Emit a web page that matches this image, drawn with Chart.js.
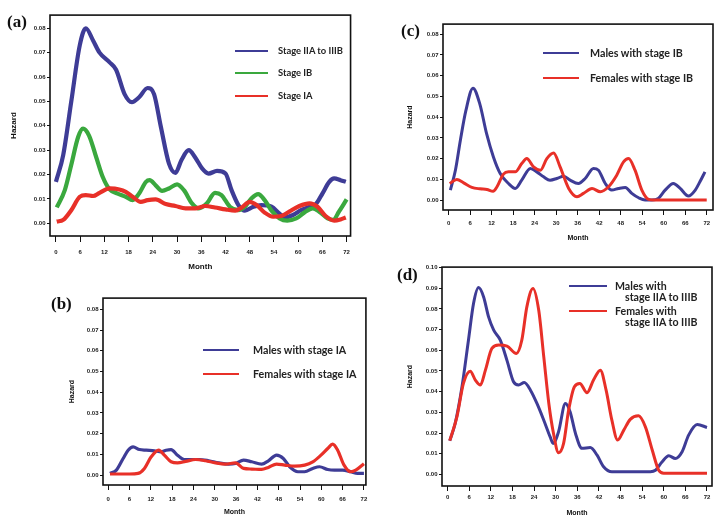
<!DOCTYPE html>
<html>
<head>
<meta charset="utf-8">
<script src="https://cdn.jsdelivr.net/npm/chart.js@4.4.1/dist/chart.umd.min.js"></script>
<style>
html, body { margin: 0; padding: 0; background: #fff; }
#fig { position: relative; width: 720px; height: 516px; overflow: hidden; background: #fff; }
#fig canvas { position: absolute; }
.tag { position: absolute; font: bold 17px "Liberation Serif", serif; color: #111; line-height: 1; transform: translateY(-50%); }
.key { position: absolute; }
.lab { position: absolute; font-family: Lato, sans-serif; font-weight: 700; color: #222; white-space: nowrap; line-height: 1; transform: translateY(-50%); }
</style>
</head>
<body>
<div id="fig"></div>
<script>
// axis ticks
const monthTicks = [0, 6, 12, 18, 24, 30, 36, 42, 48, 54, 60, 66, 72];
const hazardTicks = [0, 0.01, 0.02, 0.03, 0.04, 0.05, 0.06, 0.07, 0.08];
const hazardTicksD = [0, 0.01, 0.02, 0.03, 0.04, 0.05, 0.06, 0.07, 0.08, 0.09, 0.10];

// (a) all patients by stage
const aLabels = ['Stage IIA to IIIB', 'Stage IB', 'Stage IA'];
const aBlueM = [0, 1.8, 3.8, 5.9, 7.4, 9.2, 10.8, 13.3, 14.9, 17, 18.8, 20.6, 22.7, 24.3, 26, 28, 29.6, 31.1, 32.9, 34.5, 36.2, 37.8, 39.9, 42, 43.5, 45.2, 46.8, 48.9, 50.9, 53.4, 55.4, 56.8, 58.7, 60.7, 62.8, 64.4, 66, 67.7, 68.9, 70.5, 71.8];
const aBlue = [0.017, 0.028, 0.050, 0.073, 0.080, 0.075, 0.070, 0.066, 0.063, 0.053, 0.0497, 0.0517, 0.0555, 0.053, 0.0395, 0.0245, 0.0207, 0.026, 0.030, 0.027, 0.0225, 0.0204, 0.0215, 0.0204, 0.0136, 0.0075, 0.0052, 0.0068, 0.0075, 0.0068, 0.004, 0.0024, 0.0034, 0.0054, 0.0068, 0.0079, 0.0122, 0.017, 0.0184, 0.0177, 0.017];
const aGreenM = [0.2, 2.2, 3.8, 5.5, 6.7, 8.2, 10, 11.6, 13.3, 15.3, 17.3, 19, 20.6, 22.3, 23.2, 24.7, 26.3, 28, 30, 31.7, 33.7, 35.4, 37.4, 39.4, 41, 43.1, 45.2, 46.8, 48.4, 50.1, 51.7, 53.4, 55.4, 57.3, 59.5, 61.5, 63.6, 65.2, 67.3, 68.7, 70.1, 72];
const aGreen = [0.0065, 0.0136, 0.024, 0.0354, 0.0388, 0.036, 0.027, 0.019, 0.0139, 0.0122, 0.0109, 0.0095, 0.0122, 0.017, 0.0177, 0.0156, 0.0133, 0.0143, 0.016, 0.0136, 0.0082, 0.0061, 0.0082, 0.0125, 0.0116, 0.0068, 0.0054, 0.0068, 0.0102, 0.012, 0.0095, 0.0052, 0.002, 0.0011, 0.002, 0.0044, 0.0061, 0.0048, 0.002, 0.0014, 0.0048, 0.0098];
const aRedM = [0.2, 1.8, 3.8, 5.9, 7.4, 9.2, 10.8, 13.3, 15.7, 17.3, 19, 21, 22.7, 24.7, 27.2, 29.6, 32.1, 34.5, 37, 39.4, 42, 44.4, 46, 48, 49.7, 51.7, 53.8, 55.8, 57.8, 60.3, 62.8, 64.8, 66.8, 68.9, 70.5, 71.8];
const aRed = [0.0007, 0.0014, 0.0054, 0.0109, 0.0116, 0.0112, 0.0125, 0.0143, 0.0139, 0.0129, 0.0109, 0.0088, 0.0095, 0.0098, 0.0079, 0.0071, 0.0061, 0.0061, 0.0071, 0.0065, 0.0057, 0.0052, 0.0065, 0.0088, 0.0075, 0.0044, 0.0027, 0.003, 0.0048, 0.0071, 0.0082, 0.0068, 0.003, 0.0011, 0.0016, 0.0024];

// (b) stage IA by sex
const bLabels = ['Males with stage IA', 'Females with stage IA'];
const bBlueM = [0.5, 2.3, 4.2, 5.6, 7, 8.8, 10.7, 13, 14.9, 16.3, 17.7, 19.5, 21.4, 23.7, 25.6, 28.3, 31.1, 33.9, 35.8, 38.1, 40.4, 43.2, 45.1, 47.4, 49.3, 51.1, 53.4, 55.3, 57.6, 59.5, 61.8, 63.7, 66, 68.3, 70.2, 72];
const bBlue = [0.0008, 0.0024, 0.008, 0.012, 0.0136, 0.0123, 0.012, 0.0117, 0.0112, 0.012, 0.0123, 0.0096, 0.0075, 0.0075, 0.0075, 0.0069, 0.0059, 0.0053, 0.0056, 0.0072, 0.0064, 0.0053, 0.0069, 0.0096, 0.008, 0.004, 0.0016, 0.0016, 0.0032, 0.004, 0.0027, 0.0024, 0.0024, 0.0016, 0.0008, 0.0008];
const bRedM = [0.5, 3.3, 6, 8.4, 10.2, 12.1, 14.2, 15.8, 17.7, 19.5, 21.8, 24.6, 27.4, 30.2, 33, 35.8, 38.1, 40.4, 43.2, 45.1, 47.4, 49.7, 52.5, 55.3, 57.6, 59.9, 61.8, 63.2, 64.6, 66.4, 68.3, 69.7, 72];
const bRed = [0.0005, 0.0005, 0.0005, 0.0008, 0.0032, 0.0088, 0.012, 0.0096, 0.0064, 0.0059, 0.0066, 0.0075, 0.0069, 0.0059, 0.0053, 0.0059, 0.0032, 0.0029, 0.0027, 0.0037, 0.0053, 0.0048, 0.0043, 0.0048, 0.0064, 0.0096, 0.0128, 0.0149, 0.012, 0.0048, 0.0016, 0.0024, 0.0055];

// (c) stage IB by sex
const cLabels = ['Males with stage IB', 'Females with stage IB'];
const cBlueM = [0.5, 1.9, 3.3, 4.8, 6.8, 8.7, 10.6, 12.5, 14.4, 16.7, 18.6, 20.4, 22.8, 24.6, 26.5, 28.3, 30.2, 32.1, 33.9, 36.2, 38.1, 40.4, 41.8, 43.7, 45.5, 47.4, 49.3, 51.1, 53, 54.8, 56.7, 58.5, 60.4, 62.7, 64.6, 66.9, 68.8, 70.1, 71.5];
const cBlue = [0.0048, 0.0144, 0.029, 0.043, 0.054, 0.0464, 0.032, 0.0208, 0.0128, 0.008, 0.0056, 0.0096, 0.0152, 0.0136, 0.0112, 0.0096, 0.0104, 0.0115, 0.0096, 0.008, 0.0104, 0.0152, 0.0144, 0.008, 0.0048, 0.0056, 0.0061, 0.0032, 0.0011, 0, 0, 0.0008, 0.0048, 0.008, 0.0056, 0.0019, 0.0048, 0.0088, 0.0136];
const cRedM = [0.3, 2.3, 4.2, 6.5, 8.8, 10.7, 12.4, 13.5, 15.3, 16.7, 18.6, 20.4, 21.8, 23.7, 25.6, 27.4, 29.3, 31.1, 33.5, 35.8, 37.6, 40, 42.3, 44.6, 46.9, 48.8, 50.2, 52, 53.9, 55.8, 57.2, 72];
const cRed = [0.008, 0.0099, 0.0083, 0.0061, 0.0054, 0.0051, 0.0042, 0.0064, 0.0125, 0.0136, 0.0136, 0.0176, 0.02, 0.016, 0.0144, 0.02, 0.0227, 0.016, 0.0056, 0.0016, 0.0032, 0.0056, 0.004, 0.0064, 0.012, 0.0184, 0.02, 0.0144, 0.0048, 0.0003, 0, 0];

// (d) stage IIA to IIIB by sex
const dLabels = [['Males with', 'stage IIA to IIIB'], ['Females with', 'stage IIA to IIIB']];
const dBlueM = [0.6, 2.1, 4, 5.8, 7.2, 8.6, 10, 11.4, 12.8, 14.6, 16.5, 18.3, 19.7, 21.3, 23, 24.8, 26.7, 28.5, 29.3, 30.8, 32.7, 34, 35.5, 37.3, 39.6, 41.5, 43.3, 45.6, 50, 56.3, 57.7, 59.5, 61.4, 63.2, 65.1, 66.9, 69.3, 72];
const dBlue = [0.0163, 0.0246, 0.0424, 0.065, 0.0826, 0.0903, 0.0858, 0.076, 0.0697, 0.065, 0.055, 0.0448, 0.0432, 0.0444, 0.0407, 0.0343, 0.0262, 0.018, 0.015, 0.0206, 0.0343, 0.0303, 0.0198, 0.0126, 0.013, 0.0093, 0.0037, 0.0013, 0.0013, 0.0013, 0.002, 0.006, 0.009, 0.0077, 0.011, 0.019, 0.0241, 0.0227];
const dRedM = [0.6, 2.6, 4.4, 6.3, 7.7, 9.1, 10.5, 12.3, 14.2, 16.5, 19.1, 20.6, 22, 23.7, 25.3, 26.7, 28.1, 29.4, 30.8, 32.2, 33.6, 35.2, 36.7, 38.7, 40.5, 42.4, 44, 45.6, 47.2, 48.9, 50.7, 53, 54.9, 56.8, 58.6, 60, 72];
const dRed = [0.0163, 0.0279, 0.044, 0.0499, 0.0456, 0.0432, 0.0504, 0.0609, 0.0625, 0.062, 0.0585, 0.0649, 0.081, 0.0899, 0.0793, 0.0568, 0.0343, 0.0198, 0.0105, 0.015, 0.0311, 0.0424, 0.044, 0.0395, 0.0456, 0.0504, 0.0407, 0.0262, 0.0166, 0.0214, 0.0266, 0.0283, 0.023, 0.0118, 0.002, 0.0006, 0.0006];

const BLUE = 'rgb(62,60,150)';
const RED = 'rgb(232,48,40)';
const GREEN = 'rgb(58,168,62)';
const TICK_FONT = '"Liberation Sans", Arial, sans-serif';

const fig = document.getElementById('fig');

// black box round the plot area
const framePlugin = {
    id: 'frame',
    afterDraw(chart) {
        const a = chart.chartArea, ctx = chart.ctx;
        ctx.save();
        ctx.strokeStyle = '#111';
        ctx.lineWidth = 1.6;
        ctx.strokeRect(a.left, a.top, a.right - a.left, a.bottom - a.top);
        ctx.restore();
    }
};

function toPoints(months, values) {
    return months.map((m, i) => ({ x: m, y: values[i] }));
}

function addDiv(cls, css, text) {
    const d = document.createElement('div');
    d.className = cls;
    Object.assign(d.style, css);
    if (text) d.textContent = text;
    fig.appendChild(d);
    return d;
}

function makePanel(p) {
    const cv = document.createElement('canvas');
    cv.width = p.w;
    cv.height = p.h;
    cv.style.left = p.x + 'px';
    cv.style.top = p.y + 'px';
    cv.style.width = p.w + 'px';
    cv.style.height = p.h + 'px';
    fig.appendChild(cv);

    const n = p.series.length;
    new Chart(cv, {
        type: 'line',
        data: {
            datasets: p.series.map((s, i) => ({
                label: s.label,
                data: toPoints(s.m, s.v),
                borderColor: s.color,
                borderWidth: p.lw,
                pointRadius: 0,
                fill: false,
                cubicInterpolationMode: 'monotone',
                order: n - 1 - i
            }))
        },
        options: {
            responsive: false,
            animation: false,
            events: [],
            layout: { padding: { left: 0, top: p.padTop, right: p.padRight, bottom: 0 } },
            plugins: { legend: { display: false }, tooltip: { enabled: false } },
            scales: {
                x: {
                    type: 'linear',
                    min: p.xMin,
                    max: p.xMax,
                    afterBuildTicks: s => { s.ticks = monthTicks.map(v => ({ value: v })); },
                    afterFit: s => { s.height = p.xH; },
                    grid: { drawOnChartArea: false, tickLength: p.xTick, color: '#111', lineWidth: 1 },
                    border: { display: false },
                    ticks: { padding: p.xPad, color: '#222', maxRotation: 0, autoSkip: false,
                             font: { family: TICK_FONT, size: 6, weight: 'bold' } },
                    title: { display: true, text: 'Month', padding: 0, color: '#111',
                             font: { family: TICK_FONT, size: p.tf, weight: 'bold' } }
                },
                y: {
                    min: p.yMin,
                    max: p.yMax,
                    afterBuildTicks: s => { s.ticks = p.yTicks.map(v => ({ value: v })); },
                    afterFit: s => { s.width = p.yW; },
                    grid: { drawOnChartArea: false, tickLength: 3, color: '#111', lineWidth: 1 },
                    border: { display: false },
                    ticks: { padding: 1.5, color: '#222', autoSkip: false,
                             font: { family: TICK_FONT, size: 6, weight: 'bold' },
                             callback: v => v.toFixed(2) },
                    title: { display: true, text: 'Hazard', padding: 0, color: '#111',
                             font: { family: TICK_FONT, size: p.tf, weight: 'bold' } }
                }
            }
        },
        plugins: [framePlugin]
    });

    // panel letter
    addDiv('tag', { left: p.tag[0] + 'px', top: p.tag[1] + 'px' }, p.tagText);

    // legend inside the box
    const lg = p.legend;
    p.series.forEach((s, i) => {
        const y = lg.y[i];
        addDiv('key', { left: lg.x0 + 'px', top: (y - lg.lw / 2) + 'px', width: (lg.x1 - lg.x0) + 'px',
                        height: lg.lw + 'px', background: s.color });
        const lines = Array.isArray(s.label) ? s.label : [s.label];
        lines.forEach((t, j) => {
            addDiv('lab', { left: (lg.tx + (j ? lg.indent : 0)) + 'px', top: (y + j * lg.lineGap) + 'px',
                            fontSize: lg.fs + 'px' }, t);
        });
    });
}

makePanel({
    tagText: '(a)', tag: [7, 21],
    x: 9, y: 10, w: 348, h: 262, padTop: 4, padRight: 4, yW: 41, xH: 36,
    xMin: -1.47, xMax: 72.98, yMin: -0.0052, yMax: 0.0854, yTicks: hazardTicks,
    xTick: 6, xPad: 7, tf: 8, lw: 4.2,
    series: [
        { label: aLabels[0], m: aBlueM, v: aBlue, color: BLUE },
        { label: aLabels[1], m: aGreenM, v: aGreen, color: GREEN },
        { label: aLabels[2], m: aRedM, v: aRed, color: RED }
    ],
    legend: { x0: 235, x1: 268, tx: 278, y: [51, 73, 96], lw: 2.2, fs: 9.4, indent: 0, lineGap: 0 }
});

makePanel({
    tagText: '(b)', tag: [51, 303],
    x: 68, y: 293, w: 305, h: 223, padTop: 4, padRight: 4, yW: 35, xH: 31,
    xMin: -1.47, xMax: 72.56, yMin: -0.0048, yMax: 0.0854, yTicks: hazardTicks,
    xTick: 5, xPad: 5.7, tf: 7, lw: 3.2,
    series: [
        { label: bLabels[0], m: bBlueM, v: bBlue, color: BLUE },
        { label: bLabels[1], m: bRedM, v: bRed, color: RED }
    ],
    legend: { x0: 203, x1: 239, tx: 253, y: [350, 374], lw: 2.6, fs: 10.7, indent: 0, lineGap: 0 }
});

makePanel({
    tagText: '(c)', tag: [401, 30],
    x: 406, y: 19, w: 311, h: 223, padTop: 4, padRight: 4, yW: 37, xH: 32,
    xMin: -1.56, xMax: 73.75, yMin: -0.0048, yMax: 0.0849, yTicks: hazardTicks,
    xTick: 5, xPad: 4.7, tf: 7, lw: 3,
    series: [
        { label: cLabels[0], m: cBlueM, v: cBlue, color: BLUE },
        { label: cLabels[1], m: cRedM, v: cRed, color: RED }
    ],
    legend: { x0: 543, x1: 579, tx: 590, y: [53, 78], lw: 2.6, fs: 10.7, indent: 0, lineGap: 0 }
});

makePanel({
    tagText: '(d)', tag: [397, 274],
    x: 406, y: 262, w: 310, h: 255, padTop: 4, padRight: 4, yW: 36, xH: 31,
    xMin: -1.55, xMax: 73.39, yMin: -0.0056, yMax: 0.1002, yTicks: hazardTicksD,
    xTick: 5, xPad: 2.7, tf: 7, lw: 3,
    series: [
        { label: dLabels[0], m: dBlueM, v: dBlue, color: BLUE },
        { label: dLabels[1], m: dRedM, v: dRed, color: RED }
    ],
    legend: { x0: 569, x1: 607, tx: 615, y: [286, 311], lw: 2.6, fs: 10.6, indent: 10, lineGap: 11 }
});
</script>
</body>
</html>
